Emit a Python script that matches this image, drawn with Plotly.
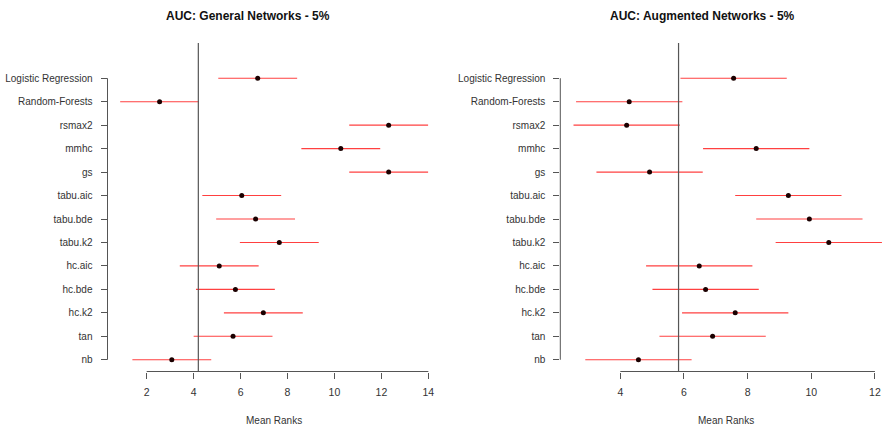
import plotly.graph_objects as go

methods = ["Logistic Regression", "Random-Forests", "rsmax2", "mmhc", "gs",
           "tabu.aic", "tabu.bde", "tabu.k2", "hc.aic", "hc.bde", "hc.k2", "tan", "nb"]

general_means = [6.73, 2.55, 12.31, 10.27, 12.31, 6.05, 6.64, 7.65, 5.09, 5.78, 6.97, 5.68, 3.07]
augmented_means = [7.56, 4.28, 4.20, 8.27, 4.92, 9.28, 9.94, 10.55, 6.48, 6.68, 7.61, 6.90, 4.57]

half_cd = [1.68, 1.67]          # half critical difference (error bar half-width)
cd_line = [4.20, 5.83]          # vertical reference line position
titles = ["AUC: General Networks - 5%", "AUC: Augmented Networks - 5%"]
x_ticks = [[2, 4, 6, 8, 10, 12, 14], [4, 6, 8, 10, 12]]
x_label = "Mean Ranks"

W, H = 882, 428
FONT = "Liberation Sans, Arial, sans-serif"

def px(x):
    return x / W

def py(y):
    return 1 - y / H

ydom = [py(371.5), py(66.5)]
xdoms = [[px(107.5), px(440)], [px(560.3), 1.0]]
xranges = [[0.33, 14.497], [2.115, 12.222]]
title_x = [248, 702]
label_x = [273.5, 726.3]

fig = go.Figure()
shapes = []
annotations = []
for i, means in enumerate([general_means, augmented_means]):
    xa = "x" if i == 0 else "x2"
    ya = "y" if i == 0 else "y2"
    fig.add_trace(go.Scatter(
        x=means, y=methods, mode="markers", xaxis=xa, yaxis=ya,
        marker=dict(color="#1a0000", size=5),
        error_x=dict(type="data", array=[half_cd[i]] * len(means),
                     color="#ff4040", thickness=1.1, width=0),
        showlegend=False, cliponaxis=False))
    # y axis line (from first to last category)
    shapes.append(dict(type="line", xref="paper", yref=ya,
                       x0=xdoms[i][0], x1=xdoms[i][0], y0=0, y1=len(methods) - 1,
                       line=dict(color="#555", width=1)))
    # x axis line (from first to last tick)
    shapes.append(dict(type="line", xref=xa, yref="paper",
                       x0=x_ticks[i][0], x1=x_ticks[i][-1], y0=ydom[0], y1=ydom[0],
                       line=dict(color="#555", width=1)))
    # reference vertical line
    shapes.append(dict(type="line", xref=xa, yref="paper",
                       x0=cd_line[i], x1=cd_line[i], y0=ydom[0], y1=py(43),
                       line=dict(color="#555", width=1.2)))
    annotations.append(dict(text="<b>%s</b>" % titles[i], xref="paper", yref="paper",
                            x=px(title_x[i]), y=py(16), xanchor="center", yanchor="middle",
                            showarrow=False, font=dict(family=FONT, size=12, color="#111")))
    annotations.append(dict(text=x_label, xref="paper", yref="paper",
                            x=px(label_x[i]), y=py(420.5), xanchor="center", yanchor="middle",
                            showarrow=False, font=dict(family=FONT, size=10, color="#333")))

axis_common = dict(showgrid=False, zeroline=False, showline=False, ticks="outside",
                   ticklen=6, tickcolor="#555", tickwidth=1, automargin=False)

fig.update_layout(
    width=W, height=H, margin=dict(l=0, r=0, t=0, b=0),
    paper_bgcolor="white", plot_bgcolor="white",
    xaxis=dict(domain=xdoms[0], range=xranges[0], tickvals=x_ticks[0], anchor="y",
               ticklabelstandoff=5, tickfont=dict(family=FONT, size=10.5, color="#333"),
               **axis_common),
    xaxis2=dict(domain=xdoms[1], range=xranges[1], tickvals=x_ticks[1], anchor="y2",
                ticklabelstandoff=5, tickfont=dict(family=FONT, size=10.5, color="#333"),
                **axis_common),
    yaxis=dict(domain=ydom, type="category", categoryorder="array", categoryarray=methods,
               range=[12.5, -0.5], anchor="x", ticklabelstandoff=6,
               tickfont=dict(family=FONT, size=10, color="#333"), **axis_common),
    yaxis2=dict(domain=ydom, type="category", categoryorder="array", categoryarray=methods,
                range=[12.5, -0.5], anchor="x2", ticklabelstandoff=6,
                tickfont=dict(family=FONT, size=10, color="#333"), **axis_common),
    shapes=shapes, annotations=annotations,
)

fig.write_html("out.html")
